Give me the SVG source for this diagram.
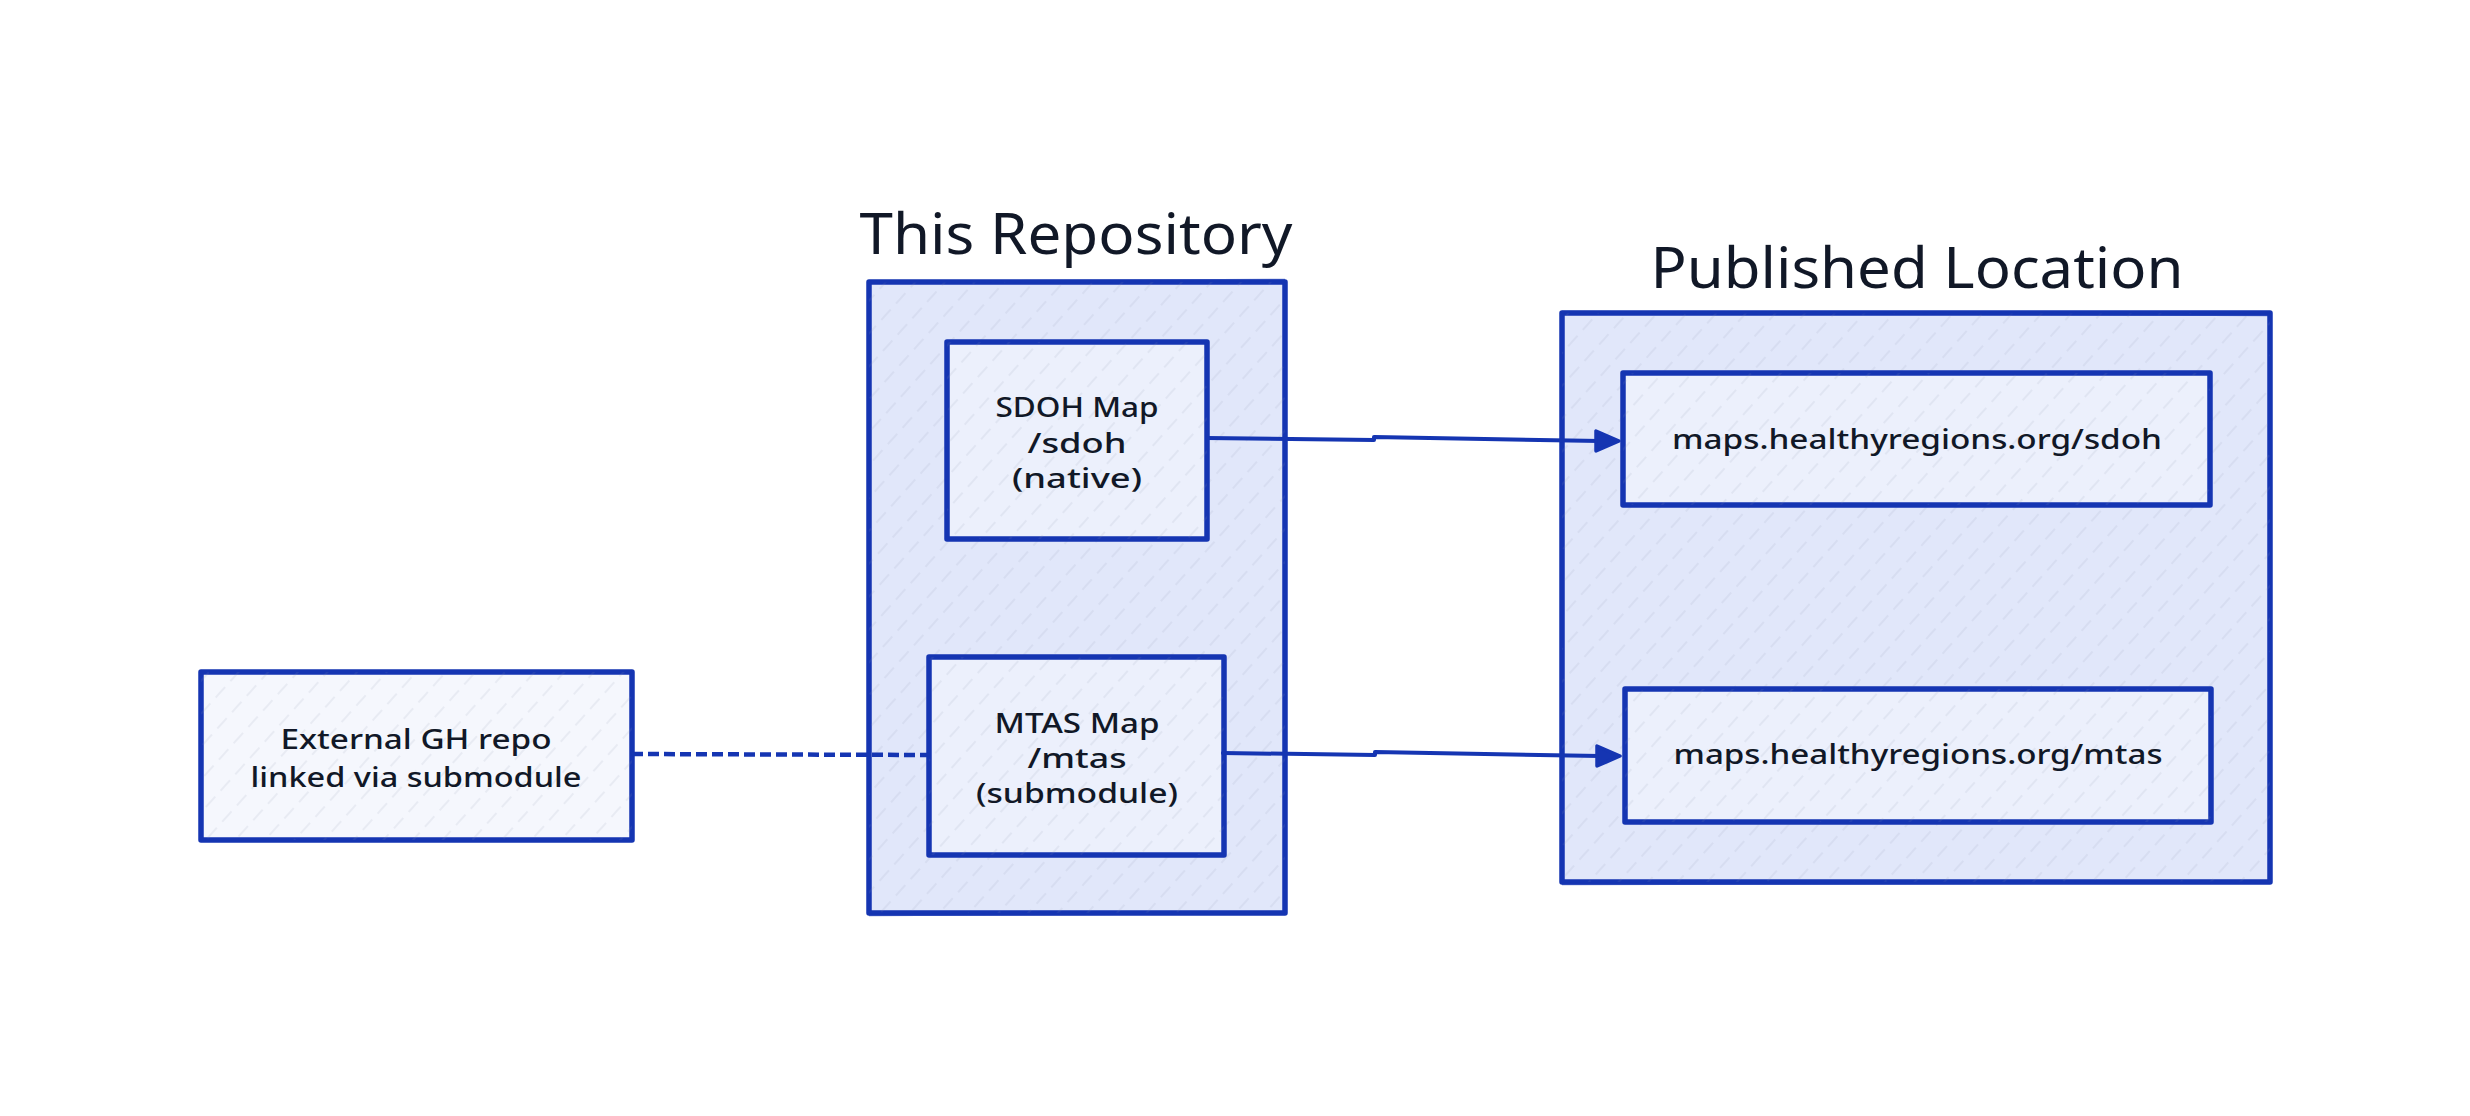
<svg xmlns="http://www.w3.org/2000/svg" width="2470" height="1116" viewBox="0 0 2470 1116">
  <style>
    .box { stroke: #1535b2; stroke-width: 5.5; stroke-linejoin: round; }
    .outer { fill: #e1e7fa; }
    .inner { fill: #ecf0fc; }
    .ext { fill: #f5f7fd; }
    .hatch { stroke: none; }
    .title { font-family: "Noto Sans", "Liberation Sans", sans-serif; font-size: 56px; fill: #111827; text-anchor: middle; }
    .label { font-family: "Noto Sans", "Liberation Sans", sans-serif; font-size: 27px; font-weight: 500; fill: #111827; text-anchor: middle; }
    .conn { stroke: #1535b2; stroke-width: 4; fill: none; stroke-linecap: round; stroke-linejoin: round; }
    .dash { stroke-dasharray: 11 5; stroke-linecap: butt; stroke-width: 4.5; }
    .head { fill: #1535b2; stroke: #1535b2; stroke-width: 3.5; stroke-linejoin: round; }
  </style>
  <defs>
    <pattern id="hatch" patternUnits="userSpaceOnUse" width="22" height="22" patternTransform="rotate(-48)">
      <line x1="0" y1="11" x2="14" y2="11" stroke="#8c92a8" stroke-opacity="0.2" stroke-width="1.2"/>
    </pattern>
  </defs>
  <rect x="0" y="0" width="2470" height="1116" fill="#ffffff"/>

  <g id="this-repository">
    <text class="title" x="1076" y="254" textLength="433" lengthAdjust="spacingAndGlyphs">This Repository</text>
    <rect class="box outer" x="869" y="282" width="416" height="631"/>
    <rect class="hatch" x="869" y="282" width="416" height="631" fill="url(#hatch)"/>
    <path d="M869 282 L1285 280 M869 915 L1285 913" stroke="#1535b2" stroke-width="2.5" fill="none" opacity="0.6"/>
  </g>

  <g id="published-location">
    <text class="title" x="1917" y="288" textLength="533" lengthAdjust="spacingAndGlyphs">Published Location</text>
    <rect class="box outer" x="1562" y="313" width="708" height="569"/>
    <rect class="hatch" x="1562" y="313" width="708" height="569" fill="url(#hatch)"/>
    <path d="M1562 884 L2270 882 M1562 312 L2270 315" stroke="#1535b2" stroke-width="2.5" fill="none" opacity="0.6"/>
  </g>

  <g id="sdoh-map">
    <rect class="box inner" x="947" y="342" width="260" height="197"/>
    <rect class="hatch" x="947" y="342" width="260" height="197" fill="url(#hatch)"/>
    <text class="label" x="1077" y="417" textLength="163" lengthAdjust="spacingAndGlyphs">SDOH Map</text>
    <text class="label" x="1077" y="453" textLength="99" lengthAdjust="spacingAndGlyphs">/sdoh</text>
    <text class="label" x="1077" y="488" textLength="130" lengthAdjust="spacingAndGlyphs">(native)</text>
  </g>

  <g id="mtas-map">
    <rect class="box inner" x="929" y="657" width="295" height="198"/>
    <rect class="hatch" x="929" y="657" width="295" height="198" fill="url(#hatch)"/>
    <text class="label" x="1077" y="733" textLength="165" lengthAdjust="spacingAndGlyphs">MTAS Map</text>
    <text class="label" x="1077" y="768" textLength="99" lengthAdjust="spacingAndGlyphs">/mtas</text>
    <text class="label" x="1077" y="803" textLength="202" lengthAdjust="spacingAndGlyphs">(submodule)</text>
  </g>

  <g id="external-repo">
    <rect class="box ext" x="201" y="672" width="431" height="168"/>
    <rect class="hatch" x="201" y="672" width="431" height="168" fill="url(#hatch)"/>
    <text class="label" x="416" y="749" textLength="271" lengthAdjust="spacingAndGlyphs">External GH repo</text>
    <text class="label" x="416" y="787" textLength="331" lengthAdjust="spacingAndGlyphs">linked via submodule</text>
  </g>

  <g id="url-sdoh">
    <rect class="box inner" x="1623" y="373" width="587" height="132"/>
    <rect class="hatch" x="1623" y="373" width="587" height="132" fill="url(#hatch)"/>
    <text class="label" x="1917" y="449" textLength="490" lengthAdjust="spacingAndGlyphs">maps.healthyregions.org/sdoh</text>
  </g>

  <g id="url-mtas">
    <rect class="box inner" x="1625" y="689" width="586" height="133"/>
    <rect class="hatch" x="1625" y="689" width="586" height="133" fill="url(#hatch)"/>
    <text class="label" x="1918" y="764" textLength="489" lengthAdjust="spacingAndGlyphs">maps.healthyregions.org/mtas</text>
  </g>

  <g id="connectors">
    <path class="conn" d="M1207 438 L1374 440 L1374 437 L1600 441"/>
    <path class="head" d="M1619 441 L1596 431 L1596 451 Z"/>
    <path class="conn" d="M1223 753 L1375 755 L1375 752 L1600 756"/>
    <path class="head" d="M1620 756 L1597 746 L1597 766 Z"/>
    <path class="conn dash" d="M632 754 L929 755"/>
  </g>
</svg>
